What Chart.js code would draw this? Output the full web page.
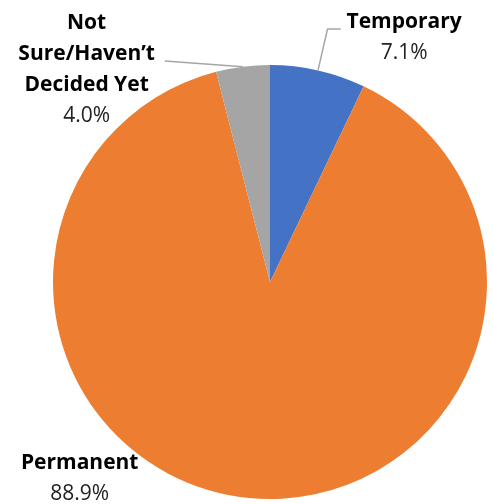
<!DOCTYPE html>
<html>
<head>
<meta charset="utf-8">
<script src="https://cdn.jsdelivr.net/npm/chart.js@4.4.1/dist/chart.umd.min.js"></script>
<style>
  body { margin: 0; background: #fff; }
  canvas { display: block; }
</style>
</head>
<body>
<canvas id="MyChart" width="493" height="504"></canvas>
<script>
const categories = ['Temporary', 'Permanent', 'Not Sure/Haven’t Decided Yet'];
const shares = [7.1, 88.9, 4.0];
const nameLines = [['Temporary'], ['Permanent'], ['Not', 'Sure/Haven’t', 'Decided Yet']];
const sliceColors = ['#4472C4', '#ED7D31', '#A5A5A5'];

// where each label sits, in pie radii from the centre (first baseline),
// plus the bend points of its leader line
const labelSpots = [
    { x: 0.618, y: -1.169, leader: [[0.265, -1.166], [0.326, -1.166]] },
    { x: -0.877, y: 0.861, leader: null },
    { x: -0.845, y: -1.168, leader: [[-0.485, -1.018]] },
]

const lineGap = 31;

const sliceLabels = {
    id: 'sliceLabels',
    afterDatasetsDraw(chart){
        const ctx = chart.ctx;
        const arcs = chart.getDatasetMeta(0).data;
        ctx.save();
        arcs.forEach((arc, i) => {
            const cx = arc.x, cy = arc.y, r = arc.outerRadius;
            const spot = labelSpots[i];

            if (spot.leader){
                const mid = (arc.startAngle + arc.endAngle) / 2;
                ctx.beginPath();
                ctx.moveTo(cx + Math.cos(mid) * r, cy + Math.sin(mid) * r);
                spot.leader.forEach(p => ctx.lineTo(cx + p[0] * r, cy + p[1] * r));
                ctx.strokeStyle = '#A6A6A6';
                ctx.lineWidth = 1.5;
                ctx.stroke();
            }

            const tx = cx + spot.x * r;
            let ty = cy + spot.y * r;
            ctx.fillStyle = '#000';
            ctx.textAlign = 'center';
            ctx.textBaseline = 'alphabetic';
            ctx.font = 'bold 21px "Open Sans"';
            nameLines[i].forEach(line => {
                ctx.fillText(line, tx, ty);
                ty += lineGap;
            });
            ctx.font = '21px "Open Sans"';
            ctx.fillStyle = '#222';
            ctx.fillText(shares[i].toFixed(1) + '%', tx, ty);
        });
        ctx.restore();
    }
}

const ctx = document.getElementById('MyChart').getContext('2d');
new Chart(ctx, {
    type: 'pie',
    data: {
        labels: categories,
        datasets: [{
            data: shares,
            backgroundColor: sliceColors,
            borderWidth: 0,
        }],
    },
    options: {
        responsive: false,
        devicePixelRatio: 1,
        animation: false,
        layout: {
            padding: { left: 53, right: 6, top: 65, bottom: 5 },
        },
        plugins: {
            legend: { display: false },
            tooltip: { enabled: false },
        },
    },
    plugins: [sliceLabels],
})
</script>
</body>
</html>
